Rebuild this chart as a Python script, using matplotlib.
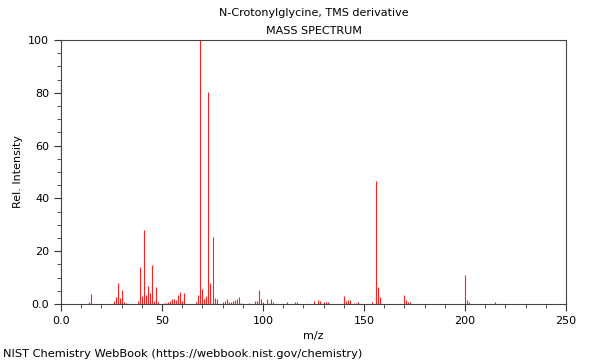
import matplotlib
matplotlib.use("Agg")
import matplotlib.pyplot as plt
from matplotlib.ticker import MultipleLocator, FuncFormatter

# m/z values and relative intensities
mz = [14, 15, 26, 27, 28, 29, 30, 31, 32,
      38, 39, 40, 41, 42, 43, 44, 45, 46, 47, 48,
      51, 52, 53, 54, 55, 56, 57, 58, 59, 60, 61,
      67, 68, 69, 70, 71, 72, 73, 74, 75, 76, 77,
      80, 81, 82, 83, 84, 85, 86, 87, 88, 89,
      93, 96, 97, 98, 99, 100, 102, 103, 104, 105,
      112, 116, 117, 125, 127, 128, 130, 131, 132,
      140, 141, 142, 143, 145, 146, 147,
      154, 156, 157, 158, 170, 171, 172, 173,
      200, 201, 202, 215]
intensity = [0.8, 3.6, 1.2, 2.8, 7.8, 2.1, 5.3, 0.8, 0.5,
             1.3, 13.9, 3.0, 28.0, 3.4, 6.8, 4.3, 14.8, 1.2, 6.6, 0.6,
             0.4, 0.5, 0.9, 1.0, 1.9, 1.9, 1.5, 3.4, 4.4, 1.2, 4.3,
             0.9, 3.4, 100.0, 5.5, 1.8, 3.0, 80.2, 8.1, 25.5, 2.1, 1.8,
             0.9, 1.0, 2.0, 0.8, 0.8, 1.0, 1.4, 1.8, 2.6, 0.5,
             0.5, 1.0, 1.0, 5.3, 2.0, 0.9, 1.9, 0.5, 1.8, 0.7,
             0.7, 0.9, 0.9, 1.3, 1.5, 1.0, 0.8, 0.8, 0.9,
             3.0, 1.3, 1.5, 1.5, 0.5, 0.5, 0.8,
             0.7, 46.6, 6.4, 2.8, 3.3, 1.6, 0.6, 0.6,
             10.9, 1.5, 0.8, 0.8]

fig = plt.figure(figsize=(6, 3.6), dpi=100)
ax = fig.add_axes([0.1017, 0.1556, 0.8416, 0.7333])

ax.vlines(mz, 0, intensity, colors="#ff2020", linewidth=0.8)

ax.set_xlim(0, 250)
ax.set_ylim(0, 100)
ax.xaxis.set_major_locator(MultipleLocator(50))
ax.xaxis.set_minor_locator(MultipleLocator(10))
ax.yaxis.set_major_locator(MultipleLocator(20))
ax.yaxis.set_minor_locator(MultipleLocator(5))

fmt = FuncFormatter(lambda v, p: "0.0" if v == 0 else "%d" % v)
ax.xaxis.set_major_formatter(fmt)
ax.yaxis.set_major_formatter(fmt)

ax.tick_params(which="major", direction="out", length=5, width=0.8,
               labelsize=8, color="#333333")
ax.tick_params(which="minor", direction="out", length=3, width=0.6,
               color="#333333")
for s in ax.spines.values():
    s.set_color("#444444")
    s.set_linewidth(0.8)

ax.set_xlabel("m/z", fontsize=8)
ax.set_ylabel("Rel. Intensity", fontsize=8)

fig.text(0.523, 0.963, "N-Crotonylglycine, TMS derivative", ha="center",
         va="center", fontsize=8)
fig.text(0.523, 0.915, "MASS SPECTRUM", ha="center", va="center", fontsize=8)
fig.text(0.005, 0.018, "NIST Chemistry WebBook (https://webbook.nist.gov/chemistry)",
         ha="left", va="center", fontsize=8.2)

fig.savefig("out.png", dpi=100)
